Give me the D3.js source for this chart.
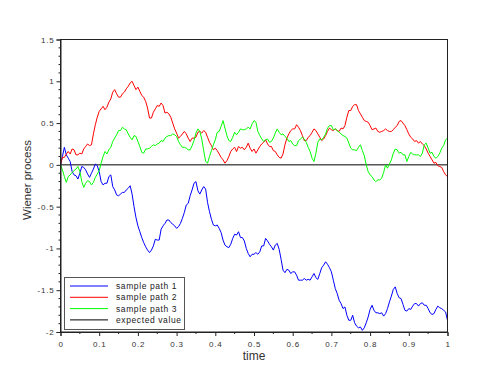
<!DOCTYPE html>
<html><head><meta charset="utf-8">
<script src="https://cdn.jsdelivr.net/npm/d3@7"></script>
<style>body{margin:0;background:#fff}svg{display:block}text{font-family:"Liberation Sans",Arial,sans-serif}</style>
</head><body><svg id="c" width="500" height="375"></svg>
<script>
const timeStep = 0.005;
const path1 = [0,0.1,0.21,0.12,0.08,0.04,-0.08,-0.12,-0.13,-0.17,-0.1,-0.02,-0.03,-0.06,-0.11,-0.15,-0.1,-0.05,0.01,-0.01,
 -0.08,-0.2,-0.24,-0.22,-0.22,-0.14,-0.12,-0.26,-0.3,-0.36,-0.37,-0.35,-0.33,-0.33,-0.3,-0.28,-0.25,-0.35,-0.5,-0.63,
 -0.73,-0.8,-0.87,-0.93,-0.98,-1.02,-1.05,-1.02,-0.97,-0.89,-0.9,
 -0.9,-0.77,-0.73,-0.7,-0.66,-0.66,-0.69,-0.71,-0.73,-0.76,-0.74,-0.7,-0.64,-0.57,-0.48,-0.46,-0.37,-0.3,-0.22,-0.2,
 -0.31,-0.35,-0.3,-0.26,-0.29,-0.45,-0.56,-0.65,-0.72,-0.73,-0.72,-0.76,-0.81,-0.9,-0.96,-0.98,-0.99,-0.95,-0.88,-0.83,
 -0.84,-0.8,-0.87,-0.87,-0.91,-1.0,-1.06,-1.1,-1.07,-1.07,
 -1.05,-1.07,-1.04,-0.97,-0.97,-0.88,-0.91,-0.95,-0.98,-1.02,-0.96,-0.94,-1.01,-1.13,-1.26,-1.29,-1.25,-1.26,-1.3,-1.28,
 -1.28,-1.32,-1.38,-1.38,-1.38,-1.36,-1.38,-1.37,-1.38,-1.34,-1.3,-1.35,-1.37,-1.3,-1.23,-1.2,-1.16,-1.19,-1.23,-1.28,
 -1.38,-1.48,-1.54,-1.62,-1.66,-1.72,-1.7,-1.8,-1.86,
 -1.86,-1.8,-1.89,-1.93,-1.95,-1.94,-1.98,-1.95,-1.89,-1.82,-1.73,-1.68,-1.74,-1.77,-1.77,-1.78,-1.77,-1.81,-1.78,-1.72,
 -1.64,-1.57,-1.49,-1.46,-1.54,-1.59,-1.6,-1.67,-1.74,-1.75,-1.72,-1.73,-1.69,-1.66,-1.66,-1.69,-1.66,-1.65,-1.68,-1.68,
 -1.72,-1.77,-1.79,-1.78,-1.73,-1.69,-1.71,-1.72,-1.74,-1.76,-1.86];
const path2 = [0,0.09,0.09,0.13,0.16,0.13,0.19,0.18,0.12,0.12,0.14,0.13,0.19,0.22,0.25,0.23,0.24,0.37,0.48,0.57,
 0.64,0.67,0.7,0.66,0.69,0.75,0.79,0.87,0.9,0.85,0.81,0.81,0.85,0.87,0.91,0.94,0.98,1.0,0.95,0.9,
 0.93,0.88,0.83,0.81,0.76,0.68,0.56,0.56,0.63,0.67,0.71,
 0.7,0.74,0.71,0.62,0.63,0.61,0.57,0.5,0.43,0.38,0.32,0.34,0.37,0.4,0.37,0.32,0.28,0.32,0.32,0.33,
 0.39,0.4,0.38,0.41,0.39,0.33,0.27,0.23,0.18,0.2,0.17,0.13,0.09,0.06,0.02,0.05,0.1,0.16,0.19,0.21,
 0.16,0.22,0.2,0.21,0.18,0.21,0.26,0.2,0.16,0.19,
 0.14,0.18,0.22,0.25,0.27,0.3,0.25,0.22,0.22,0.17,0.16,0.12,0.09,0.08,0.13,0.24,0.32,0.37,0.41,0.43,
 0.43,0.48,0.45,0.41,0.35,0.29,0.29,0.33,0.35,0.39,0.43,0.41,0.37,0.33,0.29,0.31,0.35,0.4,0.44,0.42,
 0.41,0.43,0.41,0.4,0.44,0.43,0.47,0.57,0.65,0.65,
 0.7,0.72,0.72,0.65,0.61,0.57,0.53,0.52,0.51,0.47,0.42,0.43,0.44,0.4,0.39,0.4,0.41,0.43,0.41,0.4,
 0.4,0.42,0.45,0.47,0.52,0.53,0.5,0.47,0.42,0.37,0.33,0.31,0.28,0.29,0.26,0.28,0.25,0.23,0.19,0.14,
 0.1,0.06,0.02,0.03,-0.01,-0.02,-0.03,-0.08,-0.12,-0.14];
const path3 = [0,-0.06,-0.14,-0.21,-0.14,-0.12,-0.09,-0.07,-0.05,-0.02,-0.08,-0.2,-0.27,-0.22,-0.19,-0.2,-0.24,-0.21,-0.15,-0.11,
 -0.07,0.02,0.1,0.16,0.13,0.18,0.21,0.28,0.32,0.36,0.41,0.41,0.45,0.43,0.42,0.37,0.33,0.3,0.35,0.34,
 0.28,0.22,0.15,0.14,0.19,0.19,0.2,0.22,0.24,0.23,0.25,
 0.26,0.29,0.28,0.32,0.34,0.35,0.35,0.37,0.36,0.34,0.28,0.24,0.21,0.21,0.2,0.18,0.18,0.23,0.29,0.38,
 0.43,0.4,0.31,0.17,0.04,0.02,0.1,0.17,0.24,0.3,0.39,0.4,0.46,0.53,0.44,0.35,0.29,0.28,0.33,0.39,
 0.36,0.39,0.43,0.42,0.42,0.43,0.45,0.43,0.49,0.53,
 0.51,0.4,0.35,0.31,0.28,0.3,0.31,0.27,0.28,0.32,0.38,0.43,0.39,0.36,0.37,0.34,0.32,0.28,0.29,0.25,
 0.23,0.23,0.29,0.31,0.33,0.31,0.27,0.21,0.16,0.08,0.04,0.14,0.27,0.31,0.3,0.33,0.37,0.44,0.47,0.47,
 0.42,0.43,0.41,0.39,0.37,0.35,0.34,0.32,0.26,0.2,
 0.18,0.18,0.17,0.21,0.24,0.17,0.11,0.0,-0.08,-0.12,-0.14,-0.18,-0.2,-0.18,-0.18,-0.16,-0.09,0.0,-0.04,0.01,
 0.06,0.14,0.19,0.18,0.14,0.15,0.12,0.12,0.04,0.1,0.15,0.13,0.12,0.12,0.12,0.1,0.14,0.24,0.26,0.2,
 0.14,0.15,0.1,0.08,0.1,0.14,0.2,0.23,0.3,0.32];
const seriesNames = ["sample path 1","sample path 2","sample path 3","expected value"];
const seriesColors = ["#0000ff","#ff0000","#00ff00","#000000"];
const xTicks = [0,0.1,0.2,0.3,0.4,0.5,0.6,0.7,0.8,0.9,1];
const yTicks = [-2,-1.5,-1,-0.5,0,0.5,1,1.5];

const svg = d3.select("#c");
const x = d3.scaleLinear().domain([0,1]).range([60.5,447.5]);
const y = d3.scaleLinear().domain([-2,1.5]).range([332,39.5]);

const g = svg.append("g");
const line = d3.line().x((d,i)=>x(i*timeStep)).y(d=>y(d));

// expected value line
g.append("path").datum([0,0]).attr("d", d3.line().x((d,i)=>x(i)).y(d=>y(d)))
  .attr("stroke","#000").attr("stroke-width",1).attr("fill","none");
[path1,path2,path3].forEach((p,k)=>{
  g.append("path").datum(p).attr("d",line).attr("fill","none")
   .attr("stroke",seriesColors[k]).attr("stroke-width",1);
});

// frame
svg.append("rect").attr("x",x(0)).attr("y",y(1.5)).attr("width",x(1)-x(0)).attr("height",y(-2)-y(1.5))
  .attr("fill","none").attr("stroke","#222").attr("stroke-width",1);

// axes
const fmt = d=> d===0?"0":(""+d);
const xAxis = d3.axisBottom(x).tickValues(xTicks).tickSize(4).tickFormat(fmt);
const gx = svg.append("g").attr("transform",`translate(0,${y(-2)})`).call(xAxis);
const xMinor = d3.range(0,20).map(i=>i*0.05+0.05).filter(v=>Math.abs(v*10-Math.round(v*10))>1e-6);
gx.selectAll(".minor").data(xMinor).enter().append("line").attr("class","minor")
  .attr("x1",d=>x(d)).attr("x2",d=>x(d)).attr("y1",0).attr("y2",2).attr("stroke","#222");
const yAxis = d3.axisLeft(y).tickValues(yTicks).tickSize(4).tickFormat(fmt);
const gy = svg.append("g").attr("transform",`translate(${x(0)},0)`).call(yAxis);
const yMinor = d3.range(-20,15).map(i=>i/10).filter(v=>Math.abs(v*2-Math.round(v*2))>1e-6);
gy.selectAll(".minor").data(yMinor).enter().append("line").attr("class","minor")
  .attr("y1",d=>y(d)).attr("y2",d=>y(d)).attr("x1",0).attr("x2",-2).attr("stroke","#222");
[gx,gy].forEach(a=>{
  a.select(".domain").attr("stroke","#222");
  a.selectAll(".tick line").attr("stroke","#222");
  a.selectAll(".tick text").attr("font-size","8px").attr("fill","#333")
   .attr("font-family","'Liberation Sans',Arial,sans-serif").attr("letter-spacing","0.8px");
});
gx.selectAll(".tick text").attr("dy","0").attr("y",15);
gy.selectAll(".tick text").attr("x",-6);

svg.append("text").attr("x",254).attr("y",360).attr("text-anchor","middle")
  .attr("font-size","12px").attr("fill","#333").text("time");
svg.append("text").attr("transform","translate(31,180) rotate(-90)").attr("text-anchor","middle")
  .attr("font-size","11.5px").attr("fill","#333").text("Wiener process");

// legend
const lg = svg.append("g");
lg.append("rect").attr("x",64.5).attr("y",277.5).attr("width",120).attr("height",52)
  .attr("fill","#fff").attr("stroke","#555").attr("stroke-width",1);
seriesNames.forEach((n,i)=>{
  const yy = 286 + i*11.3;
  lg.append("line").attr("x1",70).attr("x2",108).attr("y1",yy).attr("y2",yy)
    .attr("stroke",seriesColors[i]).attr("stroke-width",1);
  lg.append("text").attr("x",116).attr("y",yy+3).attr("font-size","8.5px").attr("fill","#222")
    .attr("letter-spacing","0.6px").text(n);
});
</script></body></html>
